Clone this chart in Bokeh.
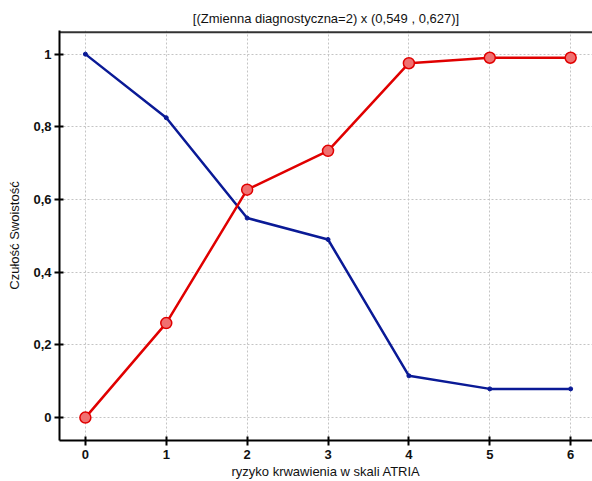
from bokeh.plotting import figure
from bokeh.embed import file_html
from bokeh.resources import INLINE
from bokeh.models import Range1d, FixedTicker

# Data
x_vals = [0, 1, 2, 3, 4, 5, 6]
czulosc = [0.0, 0.26, 0.627, 0.734, 0.975, 0.99, 0.99]      # red
swoistosc = [1.0, 0.825, 0.549, 0.49, 0.115, 0.079, 0.079]  # blue
y_ticks = [0, 0.2, 0.4, 0.6, 0.8, 1.0]
y_tick_labels = ["0", "0,2", "0,4", "0,6", "0,8", "1"]
x_ticks = [0, 1, 2, 3, 4, 5, 6]
title_text = "[(Zmienna diagnostyczna=2) x (0,549 , 0,627)]"
x_label = "ryzyko krwawienia w skali ATRIA"
y_label = "Czułość Swoistość"

FONT = "Liberation Sans"
X_START, X_END = -0.32, 6.27
Y_BOTTOM, Y_TOP = -0.063, 1.06

p = figure(width=592, height=481, output_backend="svg", toolbar_location=None,
           x_range=Range1d(X_START, X_END), y_range=Range1d(Y_BOTTOM, Y_TOP + 0.005),
           min_border_left=59, min_border_right=0, min_border_top=30, min_border_bottom=40,
           title=title_text)
p.outline_line_color = None
p.background_fill_color = "white"
p.border_fill_color = "white"

p.title.text_font = FONT
p.title.text_font_size = "13px"
p.title.text_font_style = "normal"
p.title.align = "center"
p.title.text_color = "#111111"

bottom = p.below[0]
left = p.left[0]

bottom.ticker = FixedTicker(ticks=x_ticks)
left.ticker = FixedTicker(ticks=y_ticks)
left.major_label_overrides = {t: l for t, l in zip(y_ticks, y_tick_labels)}
for ax in (bottom, left):
    ax.axis_line_width = 2
    ax.axis_line_color = "black"
    ax.major_tick_in = 4
    ax.major_tick_out = 5
    ax.major_tick_line_width = 2
    ax.major_tick_line_color = "black"
    ax.minor_tick_in = 0
    ax.minor_tick_out = 0
    ax.major_label_text_font = FONT
    ax.major_label_text_font_size = "13px"
    ax.major_label_text_font_style = "bold"
    ax.major_label_text_color = "#111111"
    ax.axis_label_text_font = FONT
    ax.axis_label_text_font_size = "13px"
    ax.axis_label_text_font_style = "normal"
    ax.axis_label_text_color = "#111111"

bottom.axis_label = x_label
bottom.axis_label_standoff = 2
bottom.major_label_standoff = 4
left.axis_label = y_label
left.axis_label_standoff = 8
left.major_label_standoff = 3

for g in (p.xgrid[0], p.ygrid[0]):
    g.grid_line_color = "#c4c4c4"
    g.grid_line_dash = "2 2"
    g.grid_line_width = 1

# top border of the frame
p.segment(x0=[X_START], x1=[X_END], y0=[Y_TOP], y1=[Y_TOP],
          line_color="#333333", line_width=2)

# blue line
p.line(x_vals, swoistosc, line_color="#0a1a96", line_width=2.5)
p.scatter(x_vals, swoistosc, size=4, fill_color="#0a1a96", line_color="#0a1a96")

# red line
p.line(x_vals, czulosc, line_color="#e00000", line_width=2.5)
p.scatter(x_vals, czulosc, size=11, fill_color="#f07070", line_color="#e00000", line_width=1.5)

open("out.html", "w").write(file_html(p, INLINE))
